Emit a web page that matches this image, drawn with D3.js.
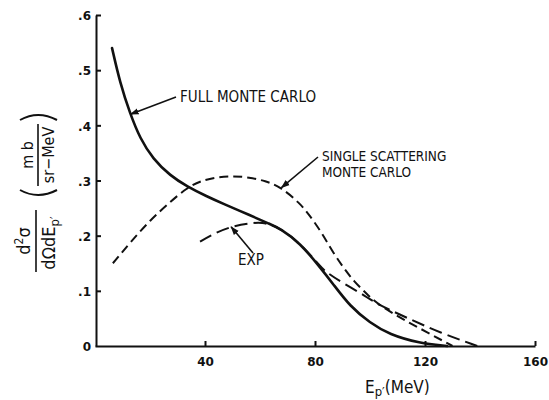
<!DOCTYPE html>
<html>
<head>
<meta charset="utf-8">
<script src="https://cdn.jsdelivr.net/npm/d3@7"></script>
<style>
  body { margin: 0; background: #fff; }
  svg { display: block; }
  text { font-family: "DejaVu Sans Condensed", "DejaVu Sans", sans-serif; fill: #111; }
  .axis path, .axis line { stroke: #111; stroke-width: 2; }
  .axis text { font-size: 12px; font-weight: bold; font-family: "DejaVu Sans", sans-serif; }
</style>
</head>
<body>
<svg id="chart" width="549" height="400"></svg>
<script>
// values: [E_p' (MeV), d2sigma (mb/sr-MeV)]
const fullMC = [
  [6.2, 0.54], [9.1, 0.477], [12.7, 0.422], [16.4, 0.376], [21.1, 0.339], [27.3, 0.309],
  [33.5, 0.289], [40.7, 0.271], [46.5, 0.258], [56.4, 0.237], [63.6, 0.221], [67.3, 0.213],
  [74.5, 0.187], [81.8, 0.143], [86.5, 0.113], [92.7, 0.072], [100, 0.042],
  [107, 0.021], [118, 0.005], [128, 0]
];
const singleMC = [
  [6.5, 0.15], [12.7, 0.187], [20, 0.228], [27.3, 0.261], [33.5, 0.287], [38.2, 0.299],
  [44.4, 0.306], [50, 0.308], [56, 0.306], [62, 0.299], [67.3, 0.289], [74.5, 0.259],
  [78, 0.237], [82.5, 0.205], [86, 0.174], [90.2, 0.143], [94, 0.118], [98.9, 0.094],
  [102.5, 0.077], [111, 0.051], [120.7, 0.025], [130, 0]
];
const expData = [
  [38.2, 0.189], [43, 0.203], [49, 0.216], [56.4, 0.223], [61, 0.224], [64.5, 0.219],
  [67.3, 0.213], [74.5, 0.187], [81.8, 0.145], [84, 0.134], [90.2, 0.114], [98.9, 0.089],
  [102.5, 0.076], [113.5, 0.051], [125.5, 0.024], [139, 0]
];
const xTicks = [40, 80, 120, 160];
const yTicks = [0, 0.1, 0.2, 0.3, 0.4, 0.5, 0.6];

const svg = d3.select('#chart');

const xScale = d3.scaleLinear().domain([0, 160]).range([95, 535]);
const yScale = d3.scaleLinear().domain([0, 0.6]).range([346, 15]);

const xAxis = d3.axisBottom(xScale)
  .tickValues(xTicks)
  .tickSizeInner(-5)
  .tickSizeOuter(0)
  .tickPadding(11);
const yAxis = d3.axisLeft(yScale)
  .tickValues(yTicks)
  .tickSizeInner(-5)
  .tickSizeOuter(0)
  .tickPadding(5)
  .tickFormat(d => d === 0 ? '0' : d3.format('.1f')(d).replace('0.', '.'));

svg.append('g')
  .attr('class', 'axis axis--x')
  .attr('transform', `translate(0,${yScale(0)})`)
  .call(xAxis);
svg.append('g')
  .attr('class', 'axis axis--y')
  .attr('transform', `translate(${xScale(0) + 1},0)`)
  .call(yAxis);
svg.selectAll('.axis--y .tick').filter(d => d === 0).select('line').remove();
svg.selectAll('.axis--y .tick text').attr('dy', '0.4em');

// arrow head
svg.append('defs').append('marker')
  .attr('id', 'arrow')
  .attr('viewBox', '0 0 10 10')
  .attr('refX', 9)
  .attr('refY', 5)
  .attr('markerWidth', 9)
  .attr('markerHeight', 9)
  .attr('markerUnits', 'userSpaceOnUse')
  .attr('orient', 'auto')
  .append('path')
  .attr('d', 'M0,1.5 L10,5 L0,8.5 Z')
  .attr('fill', '#111');

const line = d3.line()
  .x(d => xScale(d[0]))
  .y(d => yScale(d[1]))
  .curve(d3.curveBasis);

svg.append('path')
  .datum(singleMC)
  .attr('fill', 'none')
  .attr('stroke', '#111')
  .attr('stroke-width', 2)
  .attr('stroke-dasharray', '9,5')
  .attr('d', line);
svg.append('path')
  .datum(expData)
  .attr('fill', 'none')
  .attr('stroke', '#111')
  .attr('stroke-width', 2)
  .attr('stroke-dasharray', '13,6')
  .attr('d', line);
svg.append('path')
  .datum(fullMC)
  .attr('fill', 'none')
  .attr('stroke', '#111')
  .attr('stroke-width', 2.6)
  .attr('stroke-linecap', 'round')
  .attr('d', line);

// labels with arrows
const labels = [
  { lines: ['FULL MONTE CARLO'], x: 180, y: 102, size: 15, from: [176, 97], to: [12.9, 0.42] },
  { lines: ['SINGLE SCATTERING', 'MONTE CARLO'], x: 322, y: 161, size: 13.5, from: [318, 157], to: [67.8, 0.287] },
  { lines: ['EXP'], x: 238, y: 265, size: 15, from: [253, 253], to: [49.5, 0.216] }
];
labels.forEach(l => {
  svg.append('line')
    .attr('x1', l.from[0]).attr('y1', l.from[1])
    .attr('x2', xScale(l.to[0])).attr('y2', yScale(l.to[1]))
    .attr('stroke', '#111')
    .attr('stroke-width', 1.6)
    .attr('marker-end', 'url(#arrow)');
  l.lines.forEach((t, i) => {
    svg.append('text')
      .attr('x', l.x)
      .attr('y', l.y + i * 15.5)
      .attr('font-size', l.size)
      .text(t);
  });
});

// x axis title
const xt = svg.append('text')
  .attr('x', 365)
  .attr('y', 393)
  .attr('font-size', 17);
xt.append('tspan').text('E');
xt.append('tspan').attr('dy', 3).attr('font-size', 13).text('p′');
xt.append('tspan').attr('dy', -3).text('(MeV)');

// y axis title: d2sigma / dOmega dEp'  ( mb / sr-MeV )
const yl = svg.append('g').attr('transform', 'translate(36,241) rotate(-90)');
const num = yl.append('text')
  .attr('x', 0).attr('y', -6)
  .attr('text-anchor', 'middle')
  .attr('font-size', 18);
num.append('tspan').text('d');
num.append('tspan').attr('dy', -7).attr('font-size', 12).text('2');
num.append('tspan').attr('dy', 7).text('σ');
yl.append('line')
  .attr('x1', -31).attr('x2', 31)
  .attr('stroke', '#111').attr('stroke-width', 1.6);
const den = yl.append('text')
  .attr('x', -2).attr('y', 19)
  .attr('text-anchor', 'middle')
  .attr('font-size', 18);
den.append('tspan').text('dΩdE');
den.append('tspan').attr('dy', 4).attr('font-size', 13).text('p′');

const un = svg.append('g').attr('transform', 'translate(38,155) rotate(-90)');
un.append('text')
  .attr('x', 0).attr('y', -5)
  .attr('text-anchor', 'middle')
  .attr('font-size', 16)
  .text('m b');
un.append('line')
  .attr('x1', -31).attr('x2', 31)
  .attr('stroke', '#111').attr('stroke-width', 1.6);
un.append('text')
  .attr('x', 0).attr('y', 16)
  .attr('text-anchor', 'middle')
  .attr('font-size', 16)
  .text('sr−MeV');
un.append('path')
  .attr('d', 'M-35,-18 Q-45,0 -35,19')
  .attr('fill', 'none').attr('stroke', '#111').attr('stroke-width', 2);
un.append('path')
  .attr('d', 'M35,-18 Q45,0 35,19')
  .attr('fill', 'none').attr('stroke', '#111').attr('stroke-width', 2);
</script>
</body>
</html>
